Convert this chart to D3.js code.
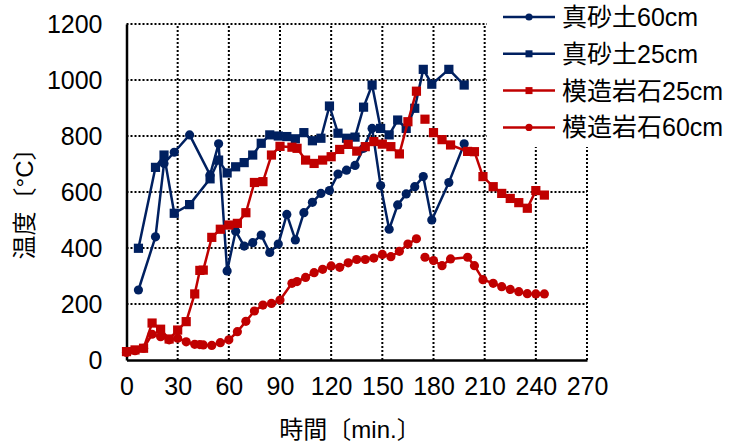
<!DOCTYPE html>
<html>
<head>
<meta charset="utf-8">
<style>
  body { margin: 0; background: #fff; }
  svg text { font-family: "Liberation Sans", Arial, "Noto Sans CJK JP", sans-serif; fill: #000; }
</style>
</head>
<body>
<div id="chart"></div>
<script src="https://cdn.jsdelivr.net/npm/d3@7"></script>
<script>
var navyTime = [7, 17, 22, 28, 37, 49, 54, 59, 64, 69, 74, 79, 84, 89, 94, 99, 104, 109, 114, 119,
                124, 129, 134, 139, 144, 149, 154, 159, 164, 169, 174, 179, 189, 198];
var masa60 = [250, 440, 702, 742, 804, 661, 772, 318, 460, 407, 419, 446, 384, 414, 520, 429, 526, 563, 595, 605,
              664, 678, 695, 756, 827, 623, 467, 554, 593, 619, 655, 500, 634, 772];
var masa25 = [399, 688, 732, 524, 555, 647, 714, 668, 690, 705, 732, 774, 804, 800, 798, 790, 812, 783, 792, 907,
              810, 792, 796, 903, 982, 827, 804, 857, 827, 899, 1038, 985, 1038, 982];

var rockTime = [0, 5, 10, 15, 20, 25, 30, 35, 40, 43, 45, 50, 55, 60, 65, 70, 75, 80, 85, 90,
                97, 100, 105, 110, 115, 120, 125, 130, 135, 140, 145, 150, 155, 160, 165, 170, 175, 180, 185, 190,
                200, 204, 209, 215, 220, 225, 230, 235, 240, 245];
var rock25 = [30, 36, 42, 132, 110, 75, 107, 137, 236, 320, 321, 438, 467, 482, 488, 526, 634, 637, 732, 763,
              760, 756, 714, 702, 714, 726, 752, 770, 746, 762, 780, 771, 762, 736, 851, 960, 860, 812, 787, 768,
              745, 744, 655, 619, 595, 577, 562, 542, 605, 589];
var rock60 = [27, 33, 42, 92, 83, 72, 78, 65, 56, 55, 54, 52, 62, 72, 101, 138, 175, 196, 202, 214,
              274, 280, 295, 312, 324, 336, 331, 347, 359, 359, 364, 377, 369, 388, 414, 433, 367, 355, 337, 361,
              367, 337, 287, 274, 262, 252, 244, 237, 236, 236];
// times where the line is not joined to the previous point
var rock25Breaks = [175, 180];
var rock60Breaks = [175];

var xTicks = [0, 30, 60, 90, 120, 150, 180, 210, 240, 270];
var yTicks = [0, 200, 400, 600, 800, 1000, 1200];

var navy = '#002060', red = '#c00000';

var series = [
  {name: '真砂土60cm', t: navyTime, v: masa60, color: navy, shape: 'circle', breaks: []},
  {name: '真砂土25cm', t: navyTime, v: masa25, color: navy, shape: 'square', breaks: []},
  {name: '模造岩石25cm', t: rockTime, v: rock25, color: red, shape: 'square', breaks: rock25Breaks},
  {name: '模造岩石60cm', t: rockTime, v: rock60, color: red, shape: 'circle', breaks: rock60Breaks}
];

var W = 743, H = 445;
var x = d3.scaleLinear().domain([0, 270]).range([126.5, 587]);
var y = d3.scaleLinear().domain([0, 1200]).range([360, 24]);

var svg = d3.select('#chart').append('svg')
  .attr('width', W).attr('height', H);

// grid
svg.append('g').selectAll('line').data(yTicks.slice(1)).enter().append('line')
  .attr('x1', x(0)).attr('x2', x(270))
  .attr('y1', function (d) { return y(d); }).attr('y2', function (d) { return y(d); })
  .attr('stroke', '#000').attr('stroke-width', 2).attr('stroke-dasharray', '2,2');
svg.append('g').selectAll('line').data(xTicks.slice(1)).enter().append('line')
  .attr('x1', function (d) { return x(d); }).attr('x2', function (d) { return x(d); })
  .attr('y1', y(0)).attr('y2', y(1200))
  .attr('stroke', '#000').attr('stroke-width', 2).attr('stroke-dasharray', '2,2');

// axes
var xAxis = svg.append('g').attr('transform', 'translate(0,' + y(0) + ')')
  .call(d3.axisBottom(x).tickValues(xTicks).tickFormat(d3.format('d')).tickSize(0).tickPadding(24));
var yAxis = svg.append('g').attr('transform', 'translate(' + x(0) + ',0)')
  .call(d3.axisLeft(y).tickValues(yTicks).tickFormat(d3.format('d')).tickSize(0).tickPadding(24));
[xAxis, yAxis].forEach(function (g) {
  g.select('.domain').attr('stroke', '#000').attr('stroke-width', 2.5);
  g.selectAll('text').attr('font-size', 25).style('font-family', '"Liberation Sans", Arial, sans-serif');
});
xAxis.selectAll('text').attr('dy', '0.45em');

// series
var line = d3.line()
  .x(function (d) { return x(d[0]); })
  .y(function (d) { return y(d[1]); });

series.forEach(function (s) {
  var pts = s.t.map(function (t, i) { return [t, s.v[i]]; });
  var segs = [], cur = [];
  pts.forEach(function (p) {
    if (s.breaks.indexOf(p[0]) >= 0 && cur.length) { segs.push(cur); cur = []; }
    cur.push(p);
  });
  segs.push(cur);
  var g = svg.append('g');
  g.selectAll('path').data(segs.filter(function (d) { return d.length > 1; })).enter().append('path')
    .attr('d', line).attr('fill', 'none').attr('stroke', s.color).attr('stroke-width', 2.5)
    .attr('stroke-linejoin', 'round');
  if (s.shape === 'circle') {
    g.selectAll('circle').data(pts).enter().append('circle')
      .attr('cx', function (d) { return x(d[0]); }).attr('cy', function (d) { return y(d[1]); })
      .attr('r', 4.6).attr('fill', s.color);
  } else {
    g.selectAll('rect').data(pts).enter().append('rect')
      .attr('x', function (d) { return x(d[0]) - 4.6; }).attr('y', function (d) { return y(d[1]) - 4.6; })
      .attr('width', 9.2).attr('height', 9.2).attr('fill', s.color);
  }
});

// legend
var legend = svg.append('g');
legend.append('rect').attr('x', 487).attr('y', 0).attr('width', W - 487).attr('height', 147).attr('fill', '#fff');
series.forEach(function (s, i) {
  var ly = 17 + i * 36.8;
  legend.append('line').attr('x1', 503).attr('x2', 555).attr('y1', ly).attr('y2', ly)
    .attr('stroke', s.color).attr('stroke-width', 2.5);
  if (s.shape === 'circle') {
    legend.append('circle').attr('cx', 529).attr('cy', ly).attr('r', 3.6).attr('fill', s.color);
  } else {
    legend.append('rect').attr('x', 525.5).attr('y', ly - 3.5).attr('width', 7).attr('height', 7).attr('fill', s.color);
  }
  legend.append('text').attr('x', 562).attr('y', ly).attr('dy', '0.36em')
    .attr('font-size', 25).text(s.name);
});

// axis titles
svg.append('text').attr('x', 350).attr('y', 429).attr('dy', '0.36em').attr('text-anchor', 'middle')
  .attr('font-size', 24).text('時間〔min.〕');
svg.append('text').attr('transform', 'translate(33,198) rotate(-90)').attr('text-anchor', 'middle')
  .attr('font-size', 24).text('温度〔°C〕');
</script>
</body>
</html>
